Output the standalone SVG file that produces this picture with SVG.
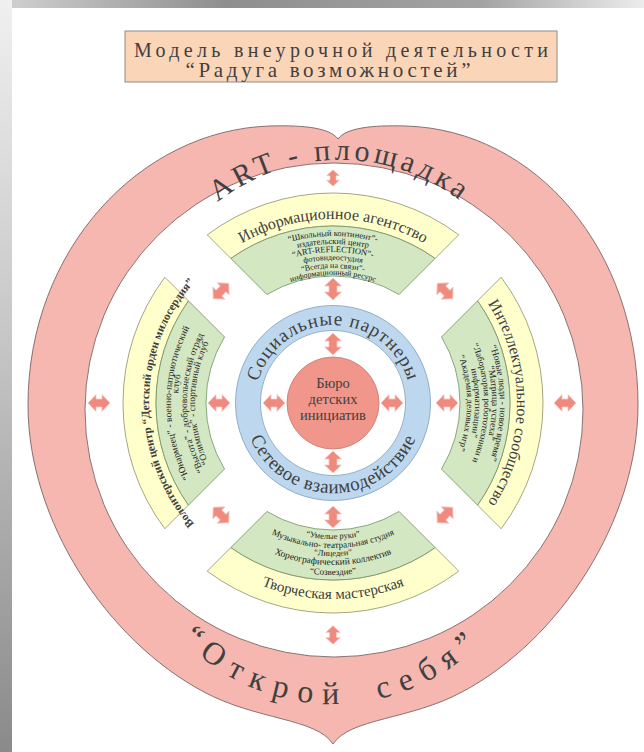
<svg xmlns="http://www.w3.org/2000/svg" width="644" height="752" viewBox="0 0 644 752">
<defs>
<linearGradient id="gTop" x1="0" y1="0" x2="1" y2="0">
<stop offset="0" stop-color="#d2d2d2"/><stop offset="0.35" stop-color="#8e8e8e"/><stop offset="0.75" stop-color="#a3a3a3"/><stop offset="1" stop-color="#ededed"/>
</linearGradient>
<linearGradient id="gLeft" x1="0" y1="0" x2="0" y2="1">
<stop offset="0" stop-color="#f0f0f0"/><stop offset="0.45" stop-color="#c6c6c6"/><stop offset="1" stop-color="#8a8a8a"/>
</linearGradient>
<path id="dbl" d="M-11,0 L-3,-8.5 L-3,-4 L3,-4 L3,-8.5 L11,0 L3,8.5 L3,4 L-3,4 L-3,8.5 Z"/>
<path id="yelShape" d="M207.24,234.82 A210,210 0 0 1 458.76,234.82 L435.13,258.44 A177,177 0 0 0 230.87,258.44 Z"/>
<path id="grnShape" d="M230.87,258.44 A177,177 0 0 1 435.13,258.44 L399.05,294.52 A127,127 0 0 0 266.95,294.52 Z"/>
<path id="a184" d="M192.05,284.73 A184,184 0 0 1 473.95,284.73"/>
<path id="a167" d="M205.07,295.66 A167,167 0 0 1 460.93,295.66"/>
<path id="a162" d="M208.90,298.87 A162,162 0 0 1 457.10,298.87"/>
<path id="a159" d="M211.20,300.80 A159,159 0 0 1 454.80,300.80"/>
<path id="a155" d="M214.26,303.37 A155,155 0 0 1 451.74,303.37"/>
<path id="a151" d="M217.33,305.94 A151,151 0 0 1 448.67,305.94"/>
<path id="a146" d="M221.16,309.15 A146,146 0 0 1 444.84,309.15"/>
<path id="a143" d="M223.46,311.08 A143,143 0 0 1 442.54,311.08"/>
<path id="a142" d="M224.22,311.72 A142,142 0 0 1 441.78,311.72"/>
<path id="a138" d="M227.29,314.29 A138,138 0 0 1 438.71,314.29"/>
<path id="a135" d="M229.59,316.22 A135,135 0 0 1 436.41,316.22"/>
<path id="a134" d="M230.35,316.87 A134,134 0 0 1 435.65,316.87"/>
<path id="a128" d="M234.95,320.72 A128,128 0 0 1 431.05,320.72"/>
<path id="b196" d="M182.86,528.99 A196,196 0 0 0 483.14,528.99"/>
<path id="b172" d="M201.24,513.56 A172,172 0 0 0 464.76,513.56"/>
<path id="b162" d="M208.90,507.13 A162,162 0 0 0 457.10,507.13"/>
<path id="b153" d="M215.80,501.35 A153,153 0 0 0 450.20,501.35"/>
<path id="b145" d="M221.92,496.20 A145,145 0 0 0 444.08,496.20"/>
<path id="b136" d="M228.82,490.42 A136,136 0 0 0 437.18,490.42"/>
<path id="c78" d="M255.05,400.28 A78,78 0 0 1 410.95,400.28"/>
<path id="c90" d="M243.05,406.14 A90,90 0 0 0 422.95,406.14"/>
<path id="o1" d="M188.33,230.73 A198,198 0 0 1 491.67,230.73"/>
<path id="o2" d="M152.87,600 A208,208 0 0 0 513.13,600"/>
</defs>
<style>
.ser{font-family:"Liberation Serif","DejaVu Serif",serif;fill:#404040}
.sm{font-family:"Liberation Serif","DejaVu Serif",serif;fill:#222}
.yel{fill:#FFFFCC;stroke:#8e8e6c;stroke-width:0.8}
.grn{fill:#D3E8C2;stroke:#6f8f5f;stroke-width:0.8}
.arr{fill:#EF8A7E;stroke:#f7c9c2;stroke-width:0.8}
</style>
<rect x="0" y="0" width="644" height="752" fill="#ffffff"/>
<rect x="0" y="0" width="644" height="8" fill="url(#gTop)"/>
<rect x="0" y="0" width="12" height="752" fill="url(#gLeft)"/>

<g id="title">
<rect x="125" y="31" width="432" height="51" fill="#FBD5B7" stroke="#8c8c8c" stroke-width="1"/>
<text class="ser" x="341" y="57" font-size="20" text-anchor="middle" textLength="414" lengthAdjust="spacing">Модель внеурочной деятельности</text>
<text class="ser" x="328" y="77" font-size="21" text-anchor="middle" textLength="285" lengthAdjust="spacing">“Радуга возможностей”</text>
</g>

<g id="outer-ring">
<path d="M28,405 C28,250 140,130 270,126 C305,125 330,128 338,139 C346,128 371,125 406,126 C536,130 638,250 638,405 C638,520 560,640 462,692 C410,720 350,718 333,744 C316,718 256,720 204,692 C106,640 28,520 28,405 Z" fill="#F5B7AF" stroke="#7d6464" stroke-width="0.9"/>
<ellipse cx="334" cy="410" rx="249" ry="247" fill="#ffffff" stroke="#7d6464" stroke-width="0.9"/>
<text class="ser" font-size="30" letter-spacing="4"><textPath href="#o1" startOffset="50%" text-anchor="middle">ART - площадка</textPath></text>
<text class="ser" font-size="32" letter-spacing="10" word-spacing="12"><textPath href="#o2" startOffset="50%" text-anchor="middle">“Открой себя”</textPath></text>
</g>

<g id="sector-top">
<use href="#yelShape" class="yel"/>
<use href="#grnShape" class="grn"/>
<text class="ser" font-size="16"><textPath href="#a184" startOffset="50%" text-anchor="middle">Информационное агентство</textPath></text>
<text class="sm" font-size="8.5"><textPath href="#a167" startOffset="50%" text-anchor="middle">“Школьный континент”-</textPath></text>
<text class="sm" font-size="8.5"><textPath href="#a159" startOffset="50%" text-anchor="middle">издательский центр</textPath></text>
<text class="sm" font-size="8.5"><textPath href="#a151" startOffset="50%" text-anchor="middle">“ART-REFLECTION”-</textPath></text>
<text class="sm" font-size="8"><textPath href="#a143" startOffset="50%" text-anchor="middle">фотовидеостудия</textPath></text>
<text class="sm" font-size="8"><textPath href="#a135" startOffset="50%" text-anchor="middle">“Всегда на связи”-</textPath></text>
<text class="sm" font-size="8"><textPath href="#a128" startOffset="50%" text-anchor="middle">информационный ресурс</textPath></text>
</g>

<g id="sector-right" transform="rotate(90 333 403)">
<use href="#yelShape" class="yel"/>
<use href="#grnShape" class="grn"/>
<text class="ser" font-size="16"><textPath href="#a184" startOffset="50%" text-anchor="middle">Интеллектуальное сообщество</textPath></text>
<text class="sm" font-size="9.5"><textPath href="#a167" startOffset="50%" text-anchor="middle">“Новые люди - новое время”</textPath></text>
<text class="sm" font-size="9.5"><textPath href="#a159" startOffset="50%" text-anchor="middle">“Матрица успеха”</textPath></text>
<text class="sm" font-size="9"><textPath href="#a151" startOffset="50%" text-anchor="middle">“Лаборатория робототехники и</textPath></text>
<text class="sm" font-size="9"><textPath href="#a142" startOffset="50%" text-anchor="middle">информатизации”</textPath></text>
<text class="sm" font-size="9"><textPath href="#a134" startOffset="50%" text-anchor="middle">“Академия деловых игр”</textPath></text>
</g>

<g id="sector-left" transform="rotate(-90 333 403)">
<use href="#yelShape" class="yel"/>
<use href="#grnShape" class="grn"/>
<text class="ser" font-size="11.5" font-weight="bold"><textPath href="#a184" startOffset="50%" text-anchor="middle">Волонтерский центр “Детский орден милосердия”</textPath></text>
<text class="sm" font-size="9.5"><textPath href="#a162" startOffset="50%" text-anchor="middle">“Юнармеец” - военно-патриотический</textPath></text>
<text class="sm" font-size="9.5"><textPath href="#a155" startOffset="57%" text-anchor="middle">клуб</textPath></text>
<text class="sm" font-size="9.5"><textPath href="#a146" startOffset="50%" text-anchor="middle">“Высота” - добровольческий отряд</textPath></text>
<text class="sm" font-size="9.5"><textPath href="#a138" startOffset="50%" text-anchor="middle">“Олимпик” - спортивный клуб</textPath></text>
</g>

<g id="sector-bottom">
<g transform="rotate(180 333 403)">
<use href="#yelShape" class="yel"/>
<use href="#grnShape" class="grn"/>
</g>
<text class="ser" font-size="15"><textPath href="#b196" startOffset="50%" text-anchor="middle">Творческая мастерская</textPath></text>
<text class="sm" font-size="9"><textPath href="#b172" startOffset="50%" text-anchor="middle">“Созвездие”</textPath></text>
<text class="sm" font-size="9.5"><textPath href="#b162" startOffset="50%" text-anchor="middle">Хореографический коллектив</textPath></text>
<text class="sm" font-size="8.5"><textPath href="#b153" startOffset="50%" text-anchor="middle">“Лицедеи”</textPath></text>
<text class="sm" font-size="9"><textPath href="#b145" startOffset="50%" text-anchor="middle">Музыкально- театральная студия</textPath></text>
<text class="sm" font-size="8.5"><textPath href="#b136" startOffset="50%" text-anchor="middle">“Умелые руки”</textPath></text>
</g>

<g id="network-ring">
<circle cx="333" cy="403" r="85" fill="none" stroke="#BDD8EE" stroke-width="25"/>
<circle cx="333" cy="403" r="97.5" fill="none" stroke="#7f9fbd" stroke-width="0.8"/>
<circle cx="333" cy="403" r="72.5" fill="none" stroke="#7f9fbd" stroke-width="0.8"/>
<text class="ser" font-size="19" letter-spacing="1"><textPath href="#c78" startOffset="50%" text-anchor="middle">Социальные партнеры</textPath></text>
<text class="ser" font-size="19" letter-spacing="0.5"><textPath href="#c90" startOffset="50%" text-anchor="middle">Сетевое взаимодействие</textPath></text>
</g>

<g id="center-bureau">
<circle cx="333" cy="403" r="46" fill="#F0968A" stroke="#c9766c" stroke-width="0.8"/>
<text class="ser" x="333" y="388" font-size="14.5" text-anchor="middle">Бюро</text>
<text class="ser" x="333" y="404" font-size="14.5" text-anchor="middle">детских</text>
<text class="ser" x="333" y="420" font-size="14.5" text-anchor="middle">инициатив</text>
</g>

<g id="connectors">
<use href="#dbl" class="arr" transform="translate(333,178) rotate(90) scale(0.75)"/>
<use href="#dbl" class="arr" transform="translate(333,289) rotate(90)"/>
<use href="#dbl" class="arr" transform="translate(333,344) rotate(90)"/>
<use href="#dbl" class="arr" transform="translate(333,462) rotate(90)"/>
<use href="#dbl" class="arr" transform="translate(274,403)"/>
<use href="#dbl" class="arr" transform="translate(392,403)"/>
<use href="#dbl" class="arr" transform="translate(219,403)"/>
<use href="#dbl" class="arr" transform="translate(447,403)"/>
<use href="#dbl" class="arr" transform="translate(99,403)"/>
<use href="#dbl" class="arr" transform="translate(565,403)"/>
<use href="#dbl" class="arr" transform="translate(333,517) rotate(90)"/>
<use href="#dbl" class="arr" transform="translate(333,635) rotate(90) scale(0.85)"/>
<use href="#dbl" class="arr" transform="translate(221,291) rotate(-45)"/>
<use href="#dbl" class="arr" transform="translate(445,291) rotate(45)"/>
<use href="#dbl" class="arr" transform="translate(221,515) rotate(45)"/>
<use href="#dbl" class="arr" transform="translate(445,515) rotate(-45)"/>
</g>
</svg>
